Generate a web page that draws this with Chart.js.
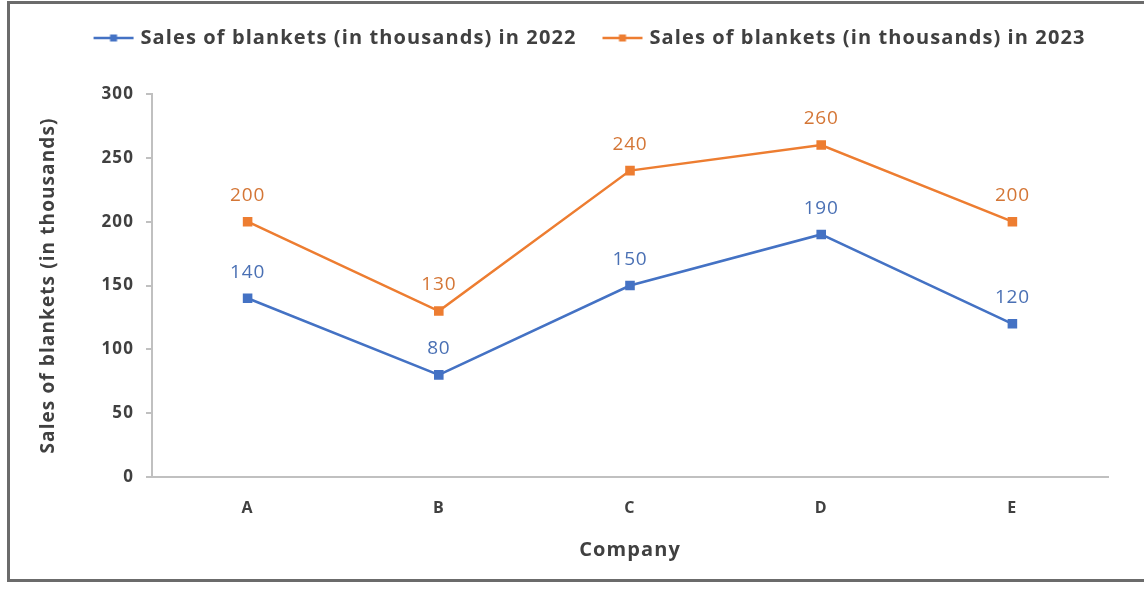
<!DOCTYPE html>
<html>
<head>
<meta charset="utf-8">
<script src="https://cdn.jsdelivr.net/npm/chart.js@4.4.1/dist/chart.umd.min.js"></script>
<style>
html,body{margin:0;padding:0;background:#fff;overflow:hidden;}
#wrap{position:absolute;left:0;top:0;width:1144px;height:599px;overflow:hidden;}
#frame{position:absolute;left:7px;top:1px;width:1160px;height:575px;border:3px solid #6b6b6b;pointer-events:none;}
canvas{position:absolute;left:0;top:0;}
</style>
</head>
<body>
<div id="wrap"><canvas id="c" width="1144" height="599"></canvas><div id="frame"></div></div>
<script>
const categories = ['A', 'B', 'C', 'D', 'E'];
const sales2022 = [140, 80, 150, 190, 120];
const sales2023 = [200, 130, 240, 260, 200];
const seriesNames = ['Sales of blankets (in thousands) in 2022', 'Sales of blankets (in thousands) in 2023'];
const yTicks = [0, 50, 100, 150, 200, 250, 300];

const BLUE = '#4472C4', ORANGE = '#ED7D31';
const FONT = '"Open Sans", Lato, "Liberation Sans", sans-serif';

function legendIcon(color){
  const cv = document.createElement('canvas');
  cv.width = 46; cv.height = 10;
  const g = cv.getContext('2d');
  g.strokeStyle = color; g.lineWidth = 2.5;
  g.beginPath(); g.moveTo(4,5); g.lineTo(44,5); g.stroke();
  g.fillStyle = color; g.fillRect(20.5,1.5,7,7);
  return cv;
}
const icons = [legendIcon(BLUE), legendIcon(ORANGE)];

function spacing(chart){
  try { chart.ctx.letterSpacing = '1.1px'; } catch(e) {}
}

const labelPlugin = {
  id: 'valueLabels',
  beforeUpdate(chart){ spacing(chart); },
  beforeLayout(chart){
    spacing(chart);
    const lg = chart.legend;
    if (lg && !lg._patched){
      const orig = lg.fit;
      lg.fit = function(){ orig.call(this); this.height = 93; };
      lg._patched = true;
    }
  },
  afterLayout(chart){
    const lg = chart.legend;
    if (lg){ lg.left += 36; lg.right += 36; }
  },
  beforeDraw(chart){ spacing(chart); },
  afterDatasetsDraw(chart){
    const ctx = chart.ctx;
    ctx.save();
    ctx.letterSpacing = '0.8px';
    ctx.font = '19px ' + FONT;
    ctx.textAlign = 'center';
    ctx.textBaseline = 'middle';
    chart.data.datasets.forEach((ds, i) => {
      const meta = chart.getDatasetMeta(i);
      ctx.fillStyle = ds.labelColor;
      meta.data.forEach((pt, j) => {
        ctx.fillText(String(ds.data[j]), pt.x, pt.y - 26);
      });
    });
    ctx.restore();
  }
};

new Chart(document.getElementById('c'), {
  type: 'line',
  data: {
    labels: categories,
    datasets: [
      {label: seriesNames[0], data: sales2022, borderColor: BLUE, backgroundColor: BLUE, borderWidth: 2.5,
       pointStyle: 'rect', pointRadius: 5, pointHoverRadius: 5, tension: 0, labelColor: '#4a70b4'},
      {label: seriesNames[1], data: sales2023, borderColor: ORANGE, backgroundColor: ORANGE, borderWidth: 2.5,
       pointStyle: 'rect', pointRadius: 5, pointHoverRadius: 5, tension: 0, labelColor: '#d47636'}
    ]
  },
  options: {
    responsive: false,
    animation: false,
    events: [],
    layout: {padding: {left: 0, right: 36, top: 1, bottom: 0}},
    plugins: {
      tooltip: {enabled: false},
      legend: {
        position: 'top',
        labels: {
          usePointStyle: true,
          pointStyleWidth: 36,
          padding: 27,
          color: '#404040',
          font: {family: FONT, size: 20, weight: 'bold'},
          generateLabels(chart){
            return chart.data.datasets.map((ds, i) => ({
              text: ds.label, pointStyle: icons[i], fillStyle: ds.borderColor,
              strokeStyle: ds.borderColor, lineWidth: 0, hidden: false, datasetIndex: i, fontColor: '#404040'
            }));
          }
        }
      }
    },
    scales: {
      x: {
        offset: true,
        grid: {display: false},
        border: {display: true, color: '#c0c0c0', width: 2},
        ticks: {color: '#404040', font: {family: FONT, size: 16, weight: 'bold'}, padding: 14},
        title: {display: true, text: 'Company', color: '#404040', font: {family: FONT, size: 20, weight: 'bold'}, padding: {top: 0, bottom: 37}},
        afterFit(s){ s.height = 122; }
      },
      y: {
        min: 0, max: 300,
        afterBuildTicks(s){ s.ticks = yTicks.map(v => ({value: v})); },
        grid: {drawOnChartArea: false, drawTicks: true, tickLength: 6, color: '#c0c0c0', lineWidth: 2},
        border: {display: true, color: '#c0c0c0', width: 2},
        ticks: {color: '#404040', font: {family: FONT, size: 17, weight: 'bold'}, padding: 12},
        title: {display: true, text: 'Sales of blankets (in thousands)', color: '#404040', font: {family: FONT, size: 19, weight: 'bold'}, padding: {top: 37, bottom: 0}},
        afterFit(s){ s.width = 152; }
      }
    }
  },
  plugins: [labelPlugin]
});
</script>
</body>
</html>
